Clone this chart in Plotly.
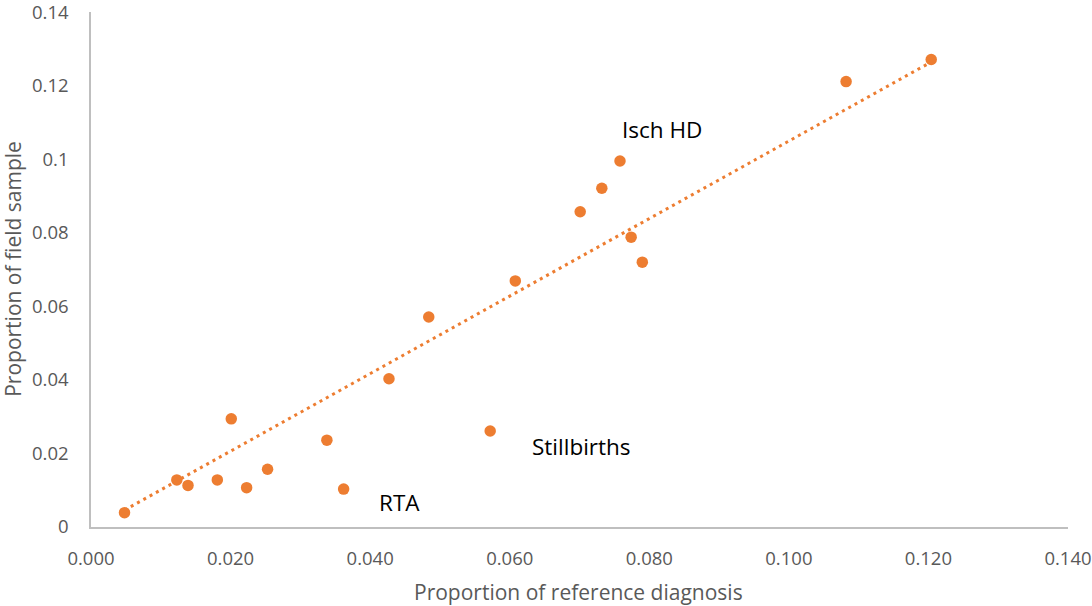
import plotly.graph_objects as go

# Proportion of reference diagnosis (x) vs proportion of field sample (y)
ref_prop = [0.0048, 0.0123, 0.0139, 0.0181, 0.0201, 0.0223, 0.0253, 0.0338, 0.0362,
            0.0427, 0.0484, 0.0572, 0.0608, 0.0701, 0.0732, 0.0758, 0.0774, 0.0790,
            0.1082, 0.1204]
field_prop = [0.0039, 0.0128, 0.0113, 0.0128, 0.0294, 0.0107, 0.0157, 0.0236, 0.0103,
              0.0403, 0.0571, 0.0261, 0.0669, 0.0857, 0.0921, 0.0995, 0.0788, 0.0720,
              0.1211, 0.1271]

# linear trendline end points
trend_x = [0.0048, 0.1200]
trend_y = [0.0046, 0.1260]

x_tickvals = [0.0, 0.02, 0.04, 0.06, 0.08, 0.10, 0.12, 0.14]
x_ticktext = ["0.000", "0.020", "0.040", "0.060", "0.080", "0.100", "0.120", "0.140"]
y_tickvals = [0.0, 0.02, 0.04, 0.06, 0.08, 0.10, 0.12, 0.14]
y_ticktext = ["0", "0.02", "0.04", "0.06", "0.08", "0.1", "0.12", "0.14"]

label_text = ["Isch HD", "RTA", "Stillbirths"]
label_x = [0.0818, 0.0442, 0.0703]
label_y = [0.1080, 0.0066, 0.0219]

ORANGE = "#ED7D31"
FONT = "Open Sans, sans-serif"

fig = go.Figure()
fig.add_trace(go.Scatter(x=trend_x, y=trend_y, mode="lines",
                         line=dict(color=ORANGE, width=3, dash="3px,4.2px"),
                         hoverinfo="skip", showlegend=False))
fig.add_trace(go.Scatter(x=ref_prop, y=field_prop, mode="markers",
                         marker=dict(color=ORANGE, size=11.5, line=dict(width=0)),
                         showlegend=False))

for t, x, y in zip(label_text, label_x, label_y):
    fig.add_annotation(x=x, y=y, text=t, showarrow=False,
                       xanchor="center", yanchor="middle",
                       font=dict(family=FONT, size=22.5, color="#000000"))

fig.add_annotation(xref="paper", yref="paper", x=0.4985, y=-0.126,
                   xanchor="center", yanchor="middle",
                   text="Proportion of reference diagnosis", showarrow=False,
                   font=dict(family=FONT, size=21, color="#595959"))
fig.add_annotation(xref="paper", yref="paper", x=-0.0795, y=0.502, textangle=-90,
                   xanchor="center", yanchor="middle",
                   text="Proportion of field sample", showarrow=False,
                   font=dict(family=FONT, size=21, color="#595959"))

fig.update_layout(
    width=1092, height=606,
    margin=dict(l=91, r=24, t=12, b=79, autoexpand=False),
    paper_bgcolor="white", plot_bgcolor="white",
    font=dict(family=FONT, color="#595959", size=18),
)
fig.update_xaxes(range=[0, 0.14], tickvals=x_tickvals, ticktext=x_ticktext,
                 showgrid=False, zeroline=False, showline=True, linecolor="#BFBFBF",
                 linewidth=1.5, ticks="outside", ticklen=14, tickcolor="rgba(0,0,0,0)",
                 automargin=False,
                 tickfont=dict(family=FONT, size=18.5, color="#595959"))
fig.update_yaxes(range=[0, 0.14001], tickvals=y_tickvals, ticktext=y_ticktext,
                 showgrid=False, zeroline=False, showline=True, linecolor="#BFBFBF",
                 linewidth=1.5, ticks="outside", ticklen=17, tickcolor="rgba(0,0,0,0)",
                 automargin=False, ticklabeloverflow="allow",
                 tickfont=dict(family=FONT, size=18.5, color="#595959"))

fig.write_html("out.html", config={"displayModeBar": False},
               post_script="document.body.style.margin='0';document.body.style.overflow='hidden';")
